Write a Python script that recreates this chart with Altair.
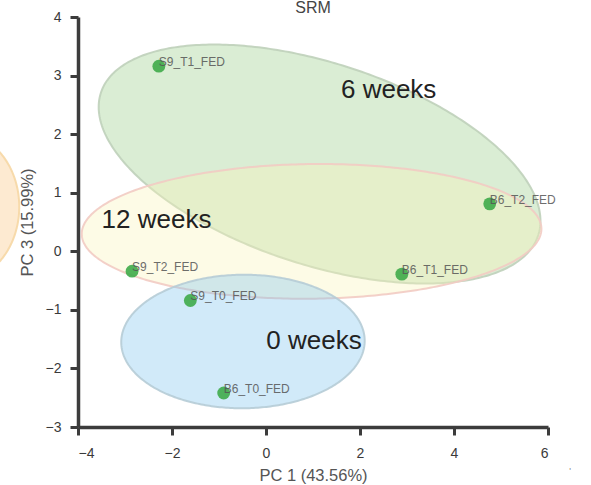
import numpy as np
import pandas as pd
import altair as alt

# Sample scores on PC1 / PC3
samples = ["S9_T1_FED", "B6_T2_FED", "B6_T1_FED", "S9_T2_FED", "S9_T0_FED", "B6_T0_FED"]
pc1 = [-2.28, 4.76, 2.89, -2.85, -1.61, -0.90]
pc3 = [3.16, 0.81, -0.39, -0.34, -0.84, -2.42]

# Group ellipses: centre, half-width, half-height, and y-offset ratio at the rightmost point
ell_names = ["offscreen", "6 weeks", "12 weeks", "0 weeks"]
ell_cx = [-6.52, 1.14, 0.97, -0.49]
ell_cy = [0.76, 1.49, 0.34, -1.54]
ell_hx = [1.27, 4.70, 4.89, 2.59]
ell_hy = [1.26, 2.04, 1.15, 1.14]
ell_tilt = [0.0, -0.477, 0.037, 0.01]
ell_fill = ["#f9c27a", "#95cc84", "#f9f4b8", "#7cc4ef"]
ell_stroke = ["#f6d7a4", "#bfd0ba", "#f2cbc3", "#b6ccd6"]

# Group label positions (baseline anchor)
grp_text = ["6 weeks", "12 weeks", "0 weeks"]
grp_x = [2.61, -2.33, 1.02]
grp_y = [2.62, 0.40, -1.66]

FONT = "Liberation Sans"
AXIS_INK = "#3c3c3c"

x_scale = alt.Scale(domain=[-4, 6], nice=False, zero=False)
y_scale = alt.Scale(domain=[-3, 4], nice=False, zero=False)

x_axis = alt.Axis(
    title="PC 1 (43.56%)", values=[-4, -2, 0, 2, 4, 6], format="d", grid=False,
    domainColor=AXIS_INK, domainWidth=3.5, tickColor=AXIS_INK, tickWidth=3, tickSize=8,
    labelFont=FONT, labelFontSize=14, labelColor="#3a3a3a", labelPadding=11,
    titleFont=FONT, titleFontSize=16.5, titleColor="#555", titleFontWeight="normal",
    titlePadding=7,
)
y_axis = alt.Axis(
    title="PC 3 (15.99%)", values=[-3, -2, -1, 0, 1, 2, 3, 4], format="d", grid=False,
    domainColor=AXIS_INK, domainWidth=3.5, tickColor=AXIS_INK, tickWidth=3, tickSize=8,
    labelFont=FONT, labelFontSize=14, labelColor="#3a3a3a", labelPadding=9,
    titleFont=FONT, titleFontSize=16.5, titleColor="#555", titleFontWeight="normal",
    titlePadding=10,
)


def X(field):
    return alt.X(field, type="quantitative", scale=x_scale, axis=x_axis)


def Y(field):
    return alt.Y(field, type="quantitative", scale=y_scale, axis=y_axis)


def ellipse_frame(i, n=181):
    t = np.linspace(0.0, np.pi, n)
    d = np.arccos(ell_tilt[i])
    return pd.DataFrame({
        "x": ell_cx[i] + ell_hx[i] * np.cos(t),
        "y": ell_cy[i] + ell_hy[i] * np.cos(t - d),
        "y2": ell_cy[i] + ell_hy[i] * np.cos(t + d),
    })


layers = []
for i in range(len(ell_names)):
    layers.append(
        alt.Chart(ellipse_frame(i)).mark_area(
            fill=ell_fill[i], fillOpacity=0.35, stroke=ell_stroke[i],
            strokeWidth=2, strokeOpacity=0.9, interpolate="linear",
        ).encode(x=X("x"), y=Y("y"), y2="y2:Q")
    )

pts = pd.DataFrame({"sample": samples, "pc1": pc1, "pc3": pc3})

points = alt.Chart(pts).mark_circle(size=165, color="#3aa845", opacity=0.88).encode(
    x=X("pc1"), y=Y("pc3"),
)

labels = alt.Chart(pts).mark_text(
    align="left", baseline="alphabetic", dx=0, dy=0,
    font=FONT, fontSize=12, color="#555", opacity=0.85,
).encode(x=X("pc1"), y=Y("pc3"), text="sample:N")

groups = alt.Chart(pd.DataFrame({"g": grp_text, "gx": grp_x, "gy": grp_y})).mark_text(
    align="center", baseline="alphabetic", font=FONT, fontSize=26, color="#222",
).encode(x=X("gx"), y=Y("gy"), text="g:N")

title = alt.Chart(pd.DataFrame({"t": ["SRM"]})).mark_text(
    align="center", baseline="alphabetic", font=FONT, fontSize=16, color="#444",
).encode(x=alt.value(235), y=alt.value(-4.5), text="t:N")

# small stray glyph below the right end of the x axis
corner = alt.Chart(pd.DataFrame({"t": ["'"]})).mark_text(
    align="center", baseline="middle", font=FONT, fontSize=9, color="#888",
).encode(x=alt.value(492), y=alt.value(454), text="t:N")

chart = alt.layer(*layers, points, labels, groups, title, corner).properties(
    width=470, height=410,
    padding={"left": 78, "top": 17, "right": 43, "bottom": 58},
    autosize=alt.AutoSizeParams(type="none"),
).configure_view(
    stroke=None
).configure_axis(
    domainWidth=3.5, domainColor=AXIS_INK, tickWidth=3, tickColor=AXIS_INK,
)

chart.save("out.html", embed_options={"renderer": "svg", "actions": False})
